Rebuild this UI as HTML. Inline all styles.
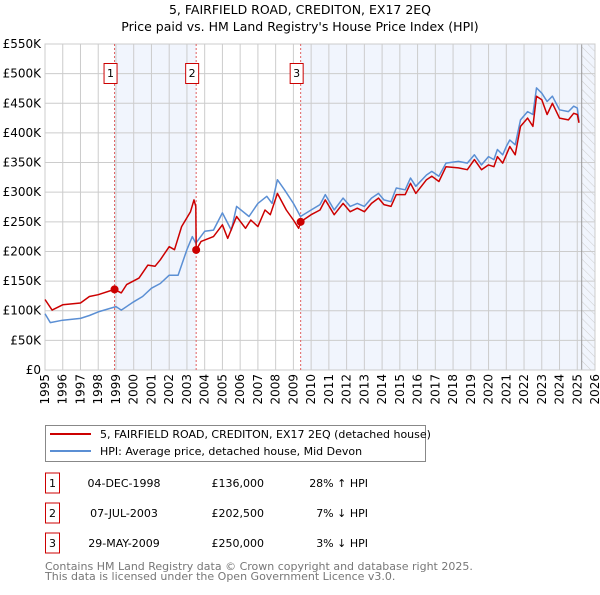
<!DOCTYPE html>
<html><head><meta charset="utf-8"><style>
body{margin:0;background:#fff;font-family:"Liberation Sans","DejaVu Sans",sans-serif;}
svg text{font-family:"DejaVu Sans","Liberation Sans",sans-serif;}
</style></head><body>
<svg id="c" width="600" height="590" xmlns="http://www.w3.org/2000/svg">
<defs><pattern id="hatch" width="6" height="6" patternUnits="userSpaceOnUse" patternTransform="rotate(-45)"><line x1="0" y1="0" x2="0" y2="6" stroke="#ccc" stroke-width="1"/></pattern></defs>
<text x="300" y="14" text-anchor="middle" font-size="12.5" fill="#000">5, FAIRFIELD ROAD, CREDITON, EX17 2EQ</text>
<text x="300" y="31" text-anchor="middle" font-size="12.5" fill="#000">Price paid vs. HM Land Registry's House Price Index (HPI)</text>
<g id="plot"></g>
<g>
<rect x="45.5" y="425.5" width="380" height="36" fill="#fff" stroke="#888"/>
<line x1="50" y1="434" x2="91" y2="434" stroke="#cc0000" stroke-width="2"/>
<text x="100" y="438" font-size="11">5, FAIRFIELD ROAD, CREDITON, EX17 2EQ (detached house)</text>
<line x1="50" y1="451" x2="91" y2="451" stroke="#5b8fd4" stroke-width="2"/>
<text x="100" y="455" font-size="11">HPI: Average price, detached house, Mid Devon</text>
</g>
<g id="table" font-size="11"></g>
<text x="45" y="570" font-size="11" fill="#777">Contains HM Land Registry data © Crown copyright and database right 2025.</text>
<text x="45" y="580" font-size="11" fill="#777">This data is licensed under the Open Government Licence v3.0.</text>
</svg>
<script>
const yTicks=[0,50,100,150,200,250,300,350,400,450,500,550];
const yearTicks=[1995,1996,1997,1998,1999,2000,2001,2002,2003,2004,2005,2006,2007,2008,2009,2010,2011,2012,2013,2014,2015,2016,2017,2018,2019,2020,2021,2022,2023,2024,2025,2026];
const hpiYears=[1995,1995.3,1996,1997,1997.5,1998,1999,1999.3,2000,2000.5,2001,2001.5,2002,2002.5,2003,2003.3,2003.5,2004,2004.5,2005,2005.5,2005.8,2006.5,2007,2007.5,2007.8,2008.1,2008.5,2009,2009.4,2010,2010.5,2010.8,2011.3,2011.8,2012.2,2012.6,2013,2013.4,2013.8,2014.1,2014.5,2014.8,2015.3,2015.6,2015.9,2016.5,2016.8,2017.2,2017.6,2018.3,2018.8,2019.2,2019.6,2020,2020.3,2020.5,2020.8,2021,2021.2,2021.5,2021.8,2022.2,2022.5,2022.7,2023,2023.3,2023.6,2024,2024.5,2024.8,2025,2025.1];
const hpiValues=[95,80,84,87,92,98,107,101,115,124,138,146,160,160,203,225,214,234,236,265,236,276,259,281,293,281,321,304,281,259,270,279,296,270,290,276,281,276,290,298,287,284,307,304,324,310,329,335,327,349,352,349,363,346,360,355,372,363,377,388,380,422,436,431,476,467,453,462,439,436,445,442,419];
const priceYears=[1995,1995.4,1996,1997,1997.5,1998,1998.92,1999.3,1999.6,2000.3,2000.8,2001.2,2001.5,2002,2002.3,2002.7,2003.2,2003.4,2003.5,2003.52,2003.8,2004.5,2005,2005.3,2005.8,2006.3,2006.6,2007,2007.4,2007.7,2008.1,2008.6,2009,2009.3,2009.41,2010,2010.5,2010.8,2011.3,2011.8,2012.2,2012.6,2013,2013.4,2013.8,2014.1,2014.5,2014.8,2015.3,2015.6,2015.9,2016.5,2016.8,2017.2,2017.6,2018.3,2018.8,2019.2,2019.6,2020,2020.3,2020.5,2020.8,2021,2021.2,2021.5,2021.8,2022.2,2022.5,2022.7,2023,2023.3,2023.6,2024,2024.5,2024.8,2025,2025.1];
const priceValues=[119,101,110,113,124,127,136,130,144,155,177,175,186,208,203,242,267,287,276,202.5,217,225,245,222,259,239,253,242,270,262,298,270,253,239,250,262,270,287,262,281,267,273,267,281,290,279,276,296,296,315,298,321,327,318,343,341,338,355,338,346,343,360,349,363,377,363,411,425,411,462,456,431,450,425,422,433,431,417];
const saleYears=[1998.92,2003.52,2009.41];
const salePrices=[136,202.5,250];
const saleLabels=["1","2","3"];
const saleDates=["04-DEC-1998","07-JUL-2003","29-MAY-2009"];
const salePriceText=["£136,000","£202,500","£250,000"];
const saleHpiText=["28% ↑ HPI","7% ↓ HPI","3% ↓ HPI"];

const L=45,R=595,T=44,B=370,x0=1995,x1=2026,yMax=550;
const X=y=>L+(y-x0)/(x1-x0)*(R-L);
const Y=v=>B-v/yMax*(B-T);
const NS="http://www.w3.org/2000/svg";
const plot=document.getElementById('plot');
function mk(tag,attrs,parent){const e=document.createElementNS(NS,tag);for(const k in attrs)e.setAttribute(k,attrs[k]);(parent||plot).appendChild(e);return e;}
mk('rect',{x:L,y:T,width:R-L,height:B-T,fill:'#fff'});
let s=mk('rect',{x:X(saleYears[0]),y:T,width:X(saleYears[1])-X(saleYears[0]),height:B-T,fill:'#eef3fc',opacity:0.8});


s=mk('rect',{x:X(saleYears[2]),y:T,width:R-X(saleYears[2]),height:B-T,fill:'#eef3fc',opacity:0.8});


const hx=X(2025.25);
s=mk('rect',{x:hx,y:T,width:R-hx,height:B-T,fill:'url(#hatch)'});


yTicks.forEach(v=>{
 mk('line',{x1:L,x2:R,y1:Y(v),y2:Y(v),stroke:'#ccc','stroke-width':1});
 const t=mk('text',{x:L-4,y:Y(v)+4,'text-anchor':'end','font-size':12});
 t.textContent=v===0?'£0':'£'+v+'K';
 
 
});
yearTicks.forEach(yr=>{
 mk('line',{x1:X(yr),x2:X(yr),y1:T,y2:B,stroke:'#ccc','stroke-width':1});
 const t=mk('text',{x:0,y:0,'text-anchor':'end','font-size':12,transform:`translate(${X(yr)+4},${B+4}) rotate(-90)`});
 t.textContent=yr;
 
 
});
mk('line',{x1:hx,x2:hx,y1:T,y2:B,stroke:'#999','stroke-width':1});
mk('rect',{x:L,y:T,width:R-L,height:B-T,fill:'none',stroke:'#ccc'});
saleYears.forEach((yr,i)=>{
 const l=mk('line',{x1:X(yr),x2:X(yr),y1:T,y2:B,stroke:'#e06060','stroke-width':1,'stroke-dasharray':'2,2'});
 
 
 const g=mk('g',{});
 
 
 mk('rect',{x:X(yr)-10.5,y:63.5,width:13,height:20,fill:'#fff',stroke:'#cc0000'},g);
 const t=mk('text',{x:X(yr)-4,y:77,'text-anchor':'middle','font-size':11},g);t.textContent=saleLabels[i];
});
const path=(xs,vs)=>xs.map((x,i)=>(i?'L':'M')+X(x).toFixed(1)+','+Y(vs[i]).toFixed(1)).join('');
let p=mk('path',{d:path(hpiYears,hpiValues),fill:'none',stroke:'#5b8fd4','stroke-width':1.5,'stroke-linejoin':'round'});


p=mk('path',{d:path(priceYears,priceValues),fill:'none',stroke:'#cc0000','stroke-width':1.5,'stroke-linejoin':'round'});


saleYears.forEach((yr,i)=>{
 const c=mk('circle',{cx:X(yr),cy:Y(salePrices[i]),r:4,fill:'#cc0000'});
 
 
});
const tb=document.getElementById('table');
saleLabels.forEach((lb,i)=>{
 const y=483+i*30;
 const g=mk('g',{},tb);
 
 
 mk('rect',{x:45.5,y:y-10,width:14,height:20,fill:'#fff',stroke:'#cc0000'},g);
 let t=mk('text',{x:52.5,y:y+4,'text-anchor':'middle'},g);t.textContent=lb;
 t=mk('text',{x:124,y:y+4,'text-anchor':'middle'},g);t.textContent=saleDates[i];
 t=mk('text',{x:264,y:y+4,'text-anchor':'end'},g);t.textContent=salePriceText[i];
 t=mk('text',{x:368,y:y+4,'text-anchor':'end'},g);t.textContent=saleHpiText[i];
});
</script>
</body></html>
